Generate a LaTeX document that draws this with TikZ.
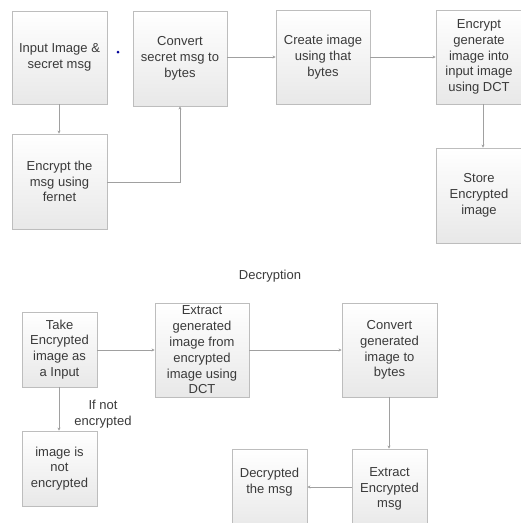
\documentclass[tikz,border=0pt]{standalone}
\usepackage{fontspec}
\setmainfont{Liberation Sans}
\usetikzlibrary{arrows.meta,shadows}
\definecolor{linec}{HTML}{A0A0A0}
\definecolor{boxline}{HTML}{BDBDBD}
\definecolor{txt}{HTML}{3A3A3A}
\tikzset{
  stepbox/.style={draw=boxline, line width=0.9pt, top color=white, bottom color=black!9,
    align=center, text=txt, inner sep=1pt, font=\fontsize{13}{15.8}\selectfont},
  conn/.style={draw=linec, line width=0.9pt, -{Stealth[length=3pt,width=3pt]}},
  plain/.style={text=txt, font=\fontsize{13}{15.8}\selectfont, align=center}
}
\begin{document}
\begin{tikzpicture}[x=1pt,y=-1pt]
\useasboundingbox (0,0) rectangle (521,523);
\clip (0,0) rectangle (521,523);
% encryption
\node[stepbox, minimum width=95pt, minimum height=93pt] (A) at (59.5,57.5) {Input Image \&\\secret msg};
\node[stepbox, minimum width=94pt, minimum height=95pt] (B) at (180,58.5) {Convert\\secret msg to\\bytes};
\node[stepbox, minimum width=95pt, minimum height=95pt] (C) at (59.5,181.5) {Encrypt the\\msg using\\fernet};
\node[stepbox, minimum width=94pt, minimum height=94pt] (D) at (323,57) {Create image\\using that\\bytes};
\node[stepbox, minimum width=86pt, minimum height=94pt] (E) at (479,57) {Encrypt\\generate\\image into\\input image\\using DCT};
\node[stepbox, minimum width=86pt, minimum height=95pt] (F) at (479,195.5) {Store\\Encrypted\\image};
\fill[blue!60!black] (118,52) circle (1.5pt);
\coordinate (cb) at (180,182);
\draw[conn] (A.south -| 59,0) -- (C.north -| 59,0);
\draw[conn] (C.east |- cb) -- (cb) -- (B.south -| cb);
\draw[conn] (B.east |- 0,57) -- (D.west |- 0,57);
\draw[conn] (D.east |- 0,57) -- (E.west |- 0,57);
\draw[conn] (E.south -| 483,0) -- (F.north -| 483,0);
% decryption
\node[plain] (title) at (270,276) {Decryption};
\node[stepbox, minimum width=75pt, minimum height=75pt] (G) at (59.5,349.5) {Take\\Encrypted\\image as\\a Input};
\node[stepbox, minimum width=94pt, minimum height=94pt] (H) at (202,350) {Extract\\generated\\image from\\encrypted\\image using\\DCT};
\node[stepbox, minimum width=75pt, minimum height=75pt] (I) at (59.5,468.5) {image is\\not\\encrypted};
\node[stepbox, minimum width=95pt, minimum height=94pt] (K) at (389.5,350) {Convert\\generated\\image to\\bytes};
\node[stepbox, minimum width=75pt, minimum height=80pt] (L) at (389.5,489) {Extract\\Encrypted\\msg};
\node[stepbox, minimum width=75pt, minimum height=80pt] (J) at (269.5,489) {Decrypted\\the msg\\[0pt]\phantom{x}};
\draw[conn] (G.east |- 0,350) -- (H.west |- 0,350);
\draw[conn] (G.south -| 59,0) -- (I.north -| 59,0);
\node[plain] (cond) at (103,414) {If not\\encrypted};
\draw[conn] (H.east |- 0,350) -- (K.west |- 0,350);
\draw[conn] (K.south -| 389,0) -- (L.north -| 389,0);
\draw[conn] (L.west |- 0,487) -- (J.east |- 0,487);
\end{tikzpicture}
\end{document}
